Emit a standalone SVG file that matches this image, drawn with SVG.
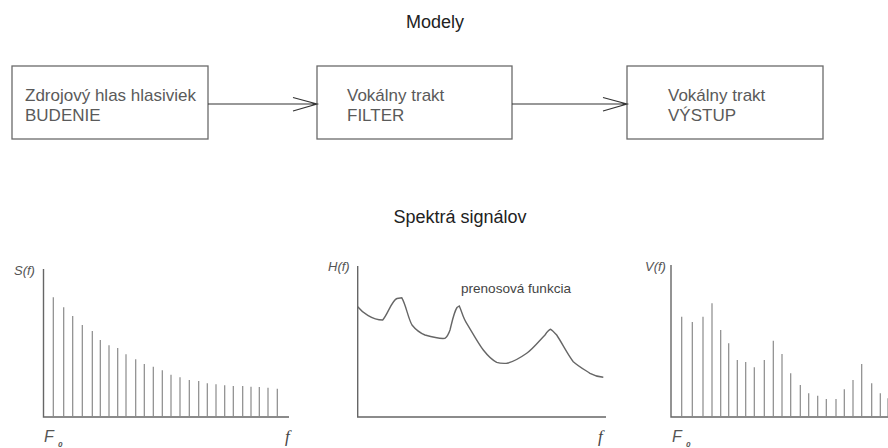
<svg xmlns="http://www.w3.org/2000/svg" width="888" height="448" viewBox="0 0 888 448">
<style>
.bg{fill:#fff}
.box{fill:#fff;stroke:#6a6a6a;stroke-width:1.3}
.bt{font-family:"Liberation Sans",Arial,sans-serif;font-size:17px;fill:#5a5a5a}
.title{font-family:"Liberation Sans",Arial,sans-serif;font-size:18px;fill:#222;text-anchor:middle}
.conn{stroke:#333;stroke-width:1.2;fill:none}
.axis{stroke:#666;stroke-width:1.4;fill:none}
.bar{stroke:#8a8a8a;stroke-width:1.2}
.lab{font-family:"Liberation Sans",Arial,sans-serif;font-style:italic;font-size:13px;fill:#555}
.big{font-size:16px}
.sub{font-size:8px;font-weight:bold}
.fl{font-family:"Liberation Serif","Times New Roman",serif;font-style:italic;font-size:17px;fill:#444}
.curve{stroke:#666;stroke-width:1.4;fill:none}
.cap{font-family:"Liberation Sans",Arial,sans-serif;font-size:13px;fill:#444}
</style>
<rect class="bg" x="0" y="0" width="888" height="448"/>
<text class="title" x="435" y="28">Modely</text>
<text class="title" x="460" y="223">Spektrá signálov</text>

<g id="node-budenie">
<rect class="box" x="12" y="66" width="196" height="73"/>
<text class="bt" x="25" y="101">Zdrojový hlas hlasiviek</text>
<text class="bt" x="25" y="121">BUDENIE</text>
</g>
<g id="node-filter">
<rect class="box" x="317" y="66" width="195" height="73"/>
<text class="bt" x="347" y="101">Vokálny trakt</text>
<text class="bt" x="347" y="121">FILTER</text>
</g>
<g id="node-vystup">
<rect class="box" x="627" y="66" width="196" height="73"/>
<text class="bt" x="668" y="101">Vokálny trakt</text>
<text class="bt" x="668" y="121">VÝSTUP</text>
</g>

<g id="connectors">
<path class="conn" d="M208 104H317M293 97.5L317 104L293 111"/>
<path class="conn" d="M512 104H627M603 97.5L627 104L603 111"/>
</g>

<g id="graph-s">
<path class="axis" d="M43.5 269V417H289"/>
<g class="bar">
<line x1="53.3" y1="417" x2="53.3" y2="297.3"/>
<line x1="63.7" y1="417" x2="63.7" y2="307.3"/>
<line x1="72.7" y1="417" x2="72.7" y2="316"/>
<line x1="82.3" y1="417" x2="82.3" y2="325"/>
<line x1="92.3" y1="417" x2="92.3" y2="331"/>
<line x1="100.3" y1="417" x2="100.3" y2="340"/>
<line x1="109" y1="417" x2="109" y2="345.3"/>
<line x1="117.7" y1="417" x2="117.7" y2="348"/>
<line x1="126" y1="417" x2="126" y2="354.3"/>
<line x1="135.7" y1="417" x2="135.7" y2="359.3"/>
<line x1="144.3" y1="417" x2="144.3" y2="364"/>
<line x1="153.3" y1="417" x2="153.3" y2="366.7"/>
<line x1="162.3" y1="417" x2="162.3" y2="370.3"/>
<line x1="171" y1="417" x2="171" y2="374.7"/>
<line x1="180" y1="417" x2="180" y2="377.3"/>
<line x1="189.3" y1="417" x2="189.3" y2="380"/>
<line x1="198.7" y1="417" x2="198.7" y2="381"/>
<line x1="207.3" y1="417" x2="207.3" y2="383.3"/>
<line x1="216" y1="417" x2="216" y2="384.3"/>
<line x1="224.7" y1="417" x2="224.7" y2="385.3"/>
<line x1="233.3" y1="417" x2="233.3" y2="386"/>
<line x1="242.7" y1="417" x2="242.7" y2="386"/>
<line x1="251" y1="417" x2="251" y2="386.7"/>
<line x1="259.3" y1="417" x2="259.3" y2="387"/>
<line x1="268" y1="417" x2="268" y2="387.7"/>
<line x1="277.3" y1="417" x2="277.3" y2="388.7"/>
</g>
<text class="lab" x="14" y="275">S(f)</text>
<text class="lab big" x="44" y="442">F</text>
<text class="lab sub" x="58" y="447">0</text>
<text class="fl" x="285" y="442">f</text>
</g>

<g id="graph-h">
<path class="axis" d="M357.7 266V417H606"/>
<path class="curve" d="M357.7 306.7C362 312 372 320 382.7 320C388 314 392 300 397 298.5L401.7 297.7C406 305 408 318 412 325C416 330 420 333 425 335C432 337 440 339 445 338.3C448 336 449 333 450 330C452 322 454 312 457 307.5L459.3 306C462 312 463 318 466.7 323.3C472 332 478 343 483.3 350C488 356 492 360 496.7 362.3C500 363.5 503 363.5 506.7 363.3C514 362 520 358 526.7 353.3C533 349 540 340 545 335C547 332 549 329.5 550.7 329.3C552 330 554 332 556.7 335C562 343 568 355 573.3 361.7C578 366 585 370 590 373.3C595 376 600 377 603.3 377.3"/>
<text class="lab" x="328" y="271">H(f)</text>
<text class="cap" x="461" y="293" textLength="110" lengthAdjust="spacingAndGlyphs">prenosová funkcia</text>
<text class="fl" x="598" y="442">f</text>
</g>

<g id="graph-v">
<path class="axis" d="M671 265V417H888"/>
<g class="bar">
<line x1="681.7" y1="417" x2="681.7" y2="316.7"/>
<line x1="692.3" y1="417" x2="692.3" y2="322"/>
<line x1="703" y1="417" x2="703" y2="316.7"/>
<line x1="712" y1="417" x2="712" y2="303.3"/>
<line x1="720.7" y1="417" x2="720.7" y2="330"/>
<line x1="728.7" y1="417" x2="728.7" y2="343.3"/>
<line x1="737.3" y1="417" x2="737.3" y2="360"/>
<line x1="745.7" y1="417" x2="745.7" y2="362"/>
<line x1="754.3" y1="417" x2="754.3" y2="367.3"/>
<line x1="764.3" y1="417" x2="764.3" y2="360"/>
<line x1="773.3" y1="417" x2="773.3" y2="340.7"/>
<line x1="782" y1="417" x2="782" y2="354"/>
<line x1="790.7" y1="417" x2="790.7" y2="373.3"/>
<line x1="800.3" y1="417" x2="800.3" y2="385"/>
<line x1="808.7" y1="417" x2="808.7" y2="393.3"/>
<line x1="817.7" y1="417" x2="817.7" y2="395.7"/>
<line x1="826.3" y1="417" x2="826.3" y2="399"/>
<line x1="836" y1="417" x2="836" y2="399"/>
<line x1="844.3" y1="417" x2="844.3" y2="389.3"/>
<line x1="853" y1="417" x2="853" y2="380"/>
<line x1="861.7" y1="417" x2="861.7" y2="364"/>
<line x1="871.7" y1="417" x2="871.7" y2="383.3"/>
<line x1="880.3" y1="417" x2="880.3" y2="393.3"/>
<line x1="888" y1="417" x2="888" y2="398.3"/>
</g>
<text class="lab" x="645" y="271">V(f)</text>
<text class="lab big" x="672" y="442">F</text>
<text class="lab sub" x="686" y="447">0</text>
</g>
</svg>
